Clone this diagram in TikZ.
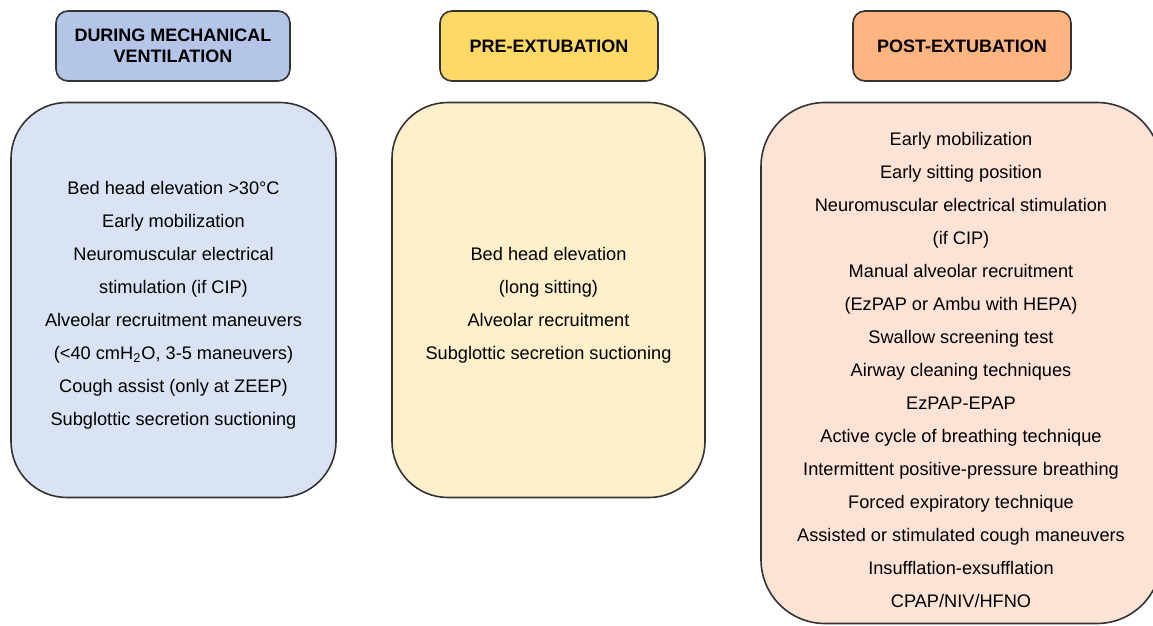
\documentclass[tikz,border=0pt]{standalone}
\usepackage{fontspec}
\setmainfont{Liberation Sans}
\usepackage{tikz}
\definecolor{linegray}{HTML}{333333}
\definecolor{mvhead}{HTML}{B4C5E8}
\definecolor{mvbody}{HTML}{DAE3F3}
\definecolor{prehead}{HTML}{FFD966}
\definecolor{prebody}{HTML}{FFF0CB}
\definecolor{posthead}{HTML}{FFB482}
\definecolor{postbody}{HTML}{FDE2D6}
\newcommand{\topgap}[1]{\rule{0pt}{#1}}
\tikzset{
% Two box styles: phase headings and lists of measures
head box/.style={draw=linegray,line width=0.8pt,rounded corners=6pt,align=center,
  minimum height=35pt,inner sep=0pt,font=\bfseries\fontsize{9}{10.5}\selectfont},
list box/.style={draw=linegray,line width=0.8pt,rounded corners=28pt,align=center,
  inner sep=0pt,font=\fontsize{9.1}{16.5}\selectfont}
}
\begin{document}
\begin{tikzpicture}[x=0.5pt,y=-0.5pt]
\useasboundingbox (0,0) rectangle (1153,626);
\node[head box,fill=mvhead,minimum width=117pt] (mvH) at (173,46) {DURING MECHANICAL\\VENTILATION};
\node[head box,fill=prehead,minimum width=109pt] (preH) at (549,46) {PRE-EXTUBATION};
\node[head box,fill=posthead,minimum width=109pt] (postH) at (962,46) {POST-EXTUBATION};

\node[list box,fill=mvbody,minimum width=162.5pt,minimum height=197.5pt] (mvL) at (173.5,300) {\topgap{12pt}Bed head elevation >30°C\\Early mobilization\\Neuromuscular electrical\\stimulation (if CIP)\\Alveolar recruitment maneuvers\\(<40 cmH\textsubscript{2}O, 3-5 maneuvers)\\Cough assist (only at ZEEP)\\Subglottic secretion suctioning};
\node[list box,fill=prebody,minimum width=156.5pt,minimum height=197.5pt] (preL) at (548.5,300) {\topgap{12pt}Bed head elevation\\(long sitting)\\Alveolar recruitment\\Subglottic secretion suctioning};
\node[list box,fill=postbody,rounded corners=32pt,minimum width=200pt,minimum height=260.5pt] (postL) at (961,363) {\topgap{13.5pt}Early mobilization\\Early sitting position\\Neuromuscular electrical stimulation\\(if CIP)\\Manual alveolar recruitment\\(EzPAP or Ambu with HEPA)\\Swallow screening test\\Airway cleaning techniques\\EzPAP-EPAP\\Active cycle of breathing technique\\Intermittent positive-pressure breathing\\Forced expiratory technique\\Assisted or stimulated cough maneuvers\\Insufflation-exsufflation\\CPAP/NIV/HFNO};
\end{tikzpicture}
\end{document}
